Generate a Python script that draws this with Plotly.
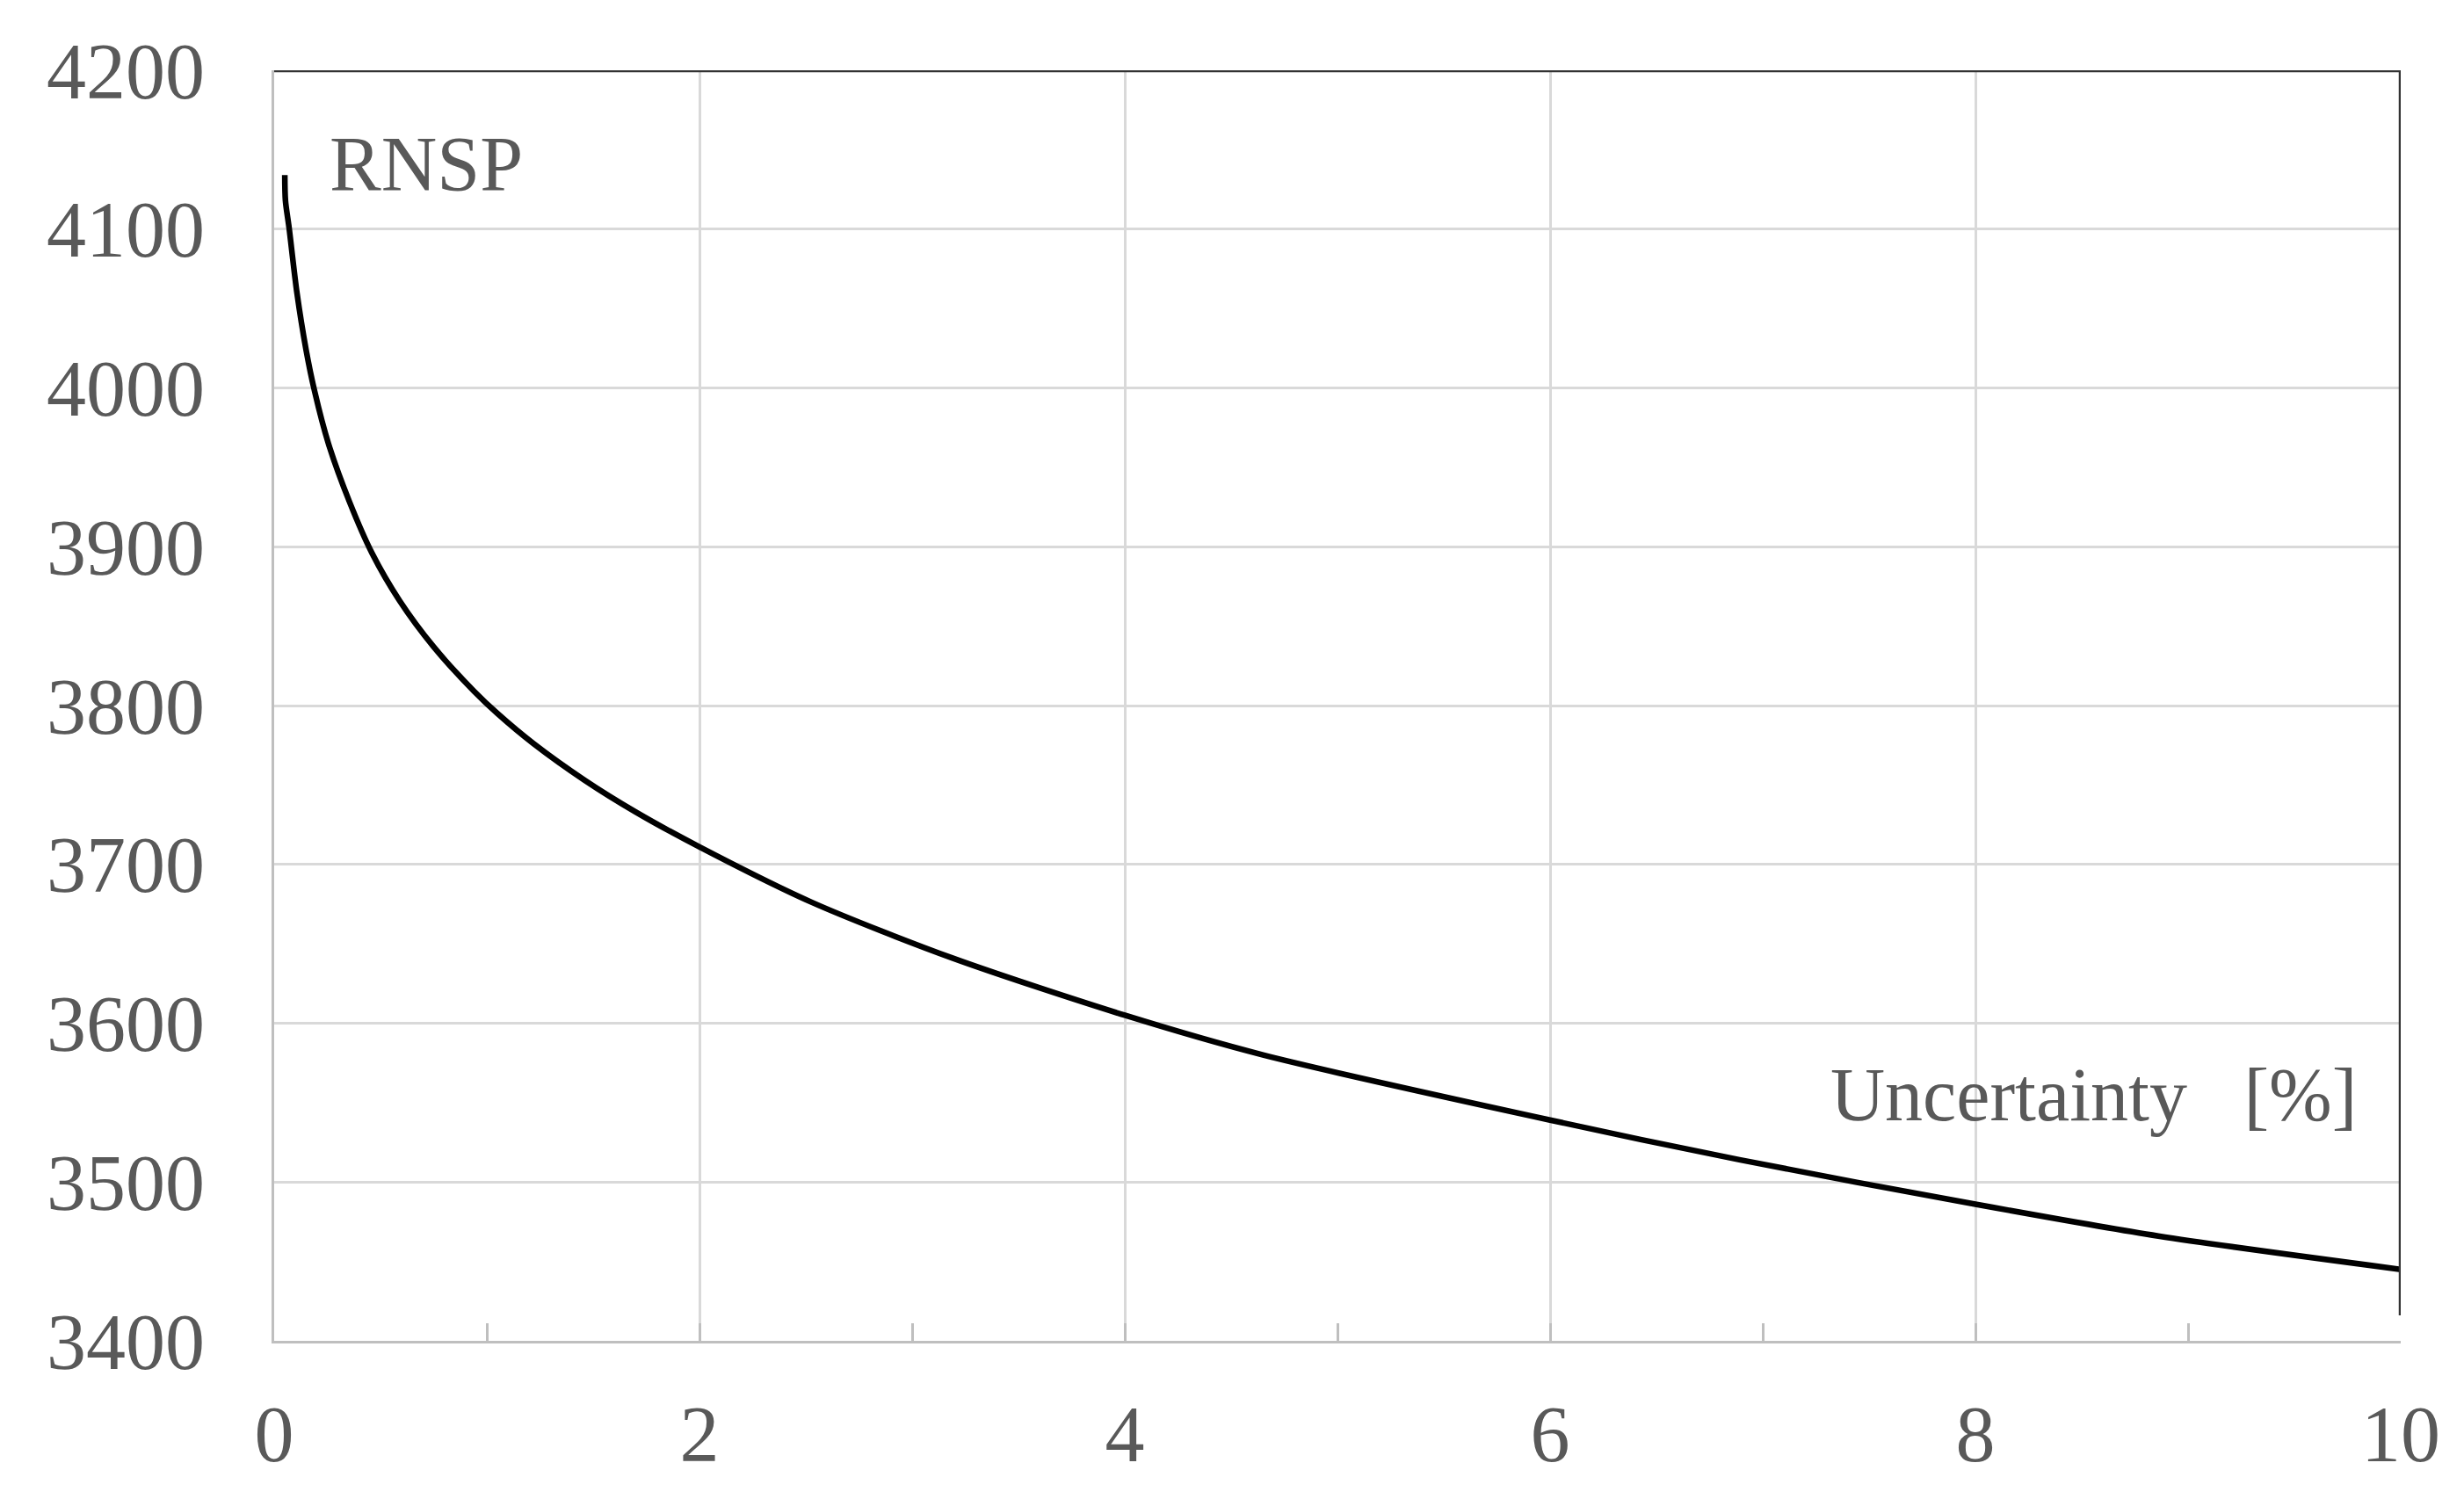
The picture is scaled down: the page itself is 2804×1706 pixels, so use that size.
import plotly.graph_objects as go

# Data
uncertainty = [0.05, 0.053, 0.07, 0.107, 0.15, 0.19, 0.255, 0.355, 0.46, 0.59, 0.75,
               0.94, 1.05, 1.22, 1.46, 1.70, 2.0, 2.53, 3.19, 4.0, 4.65,
               6.0, 6.89, 8.0, 8.86, 10.0]
rnsp = [4134, 4118, 4101, 4060, 4024, 3998, 3965, 3928, 3896, 3866, 3837,
        3809, 3795, 3776, 3753, 3733, 3711, 3676, 3641, 3605, 3580,
        3539, 3514, 3486, 3466, 3445]

x_ticks = [0, 2, 4, 6, 8, 10]
y_ticks = [3400, 3500, 3600, 3700, 3800, 3900, 4000, 4100, 4200]

# frame lines (top and right) as drawn in the reference
frame_x = [0, 10, 10]
frame_y = [4200, 4200, 3416]

FONT = "Liberation Serif, Times New Roman, serif"
TXT = "#595959"
GRID = "#d9d9d9"
AXIS = "#bfbfbf"

fig = go.Figure()
fig.add_trace(go.Scatter(x=uncertainty, y=rnsp, mode="lines",
                         line=dict(color="black", width=6.5, shape="spline", smoothing=0.8),
                         showlegend=False, hoverinfo="skip"))
fig.add_trace(go.Scatter(x=frame_x, y=frame_y, mode="lines",
                         line=dict(color="#333333", width=4.5),
                         showlegend=False, hoverinfo="skip", cliponaxis=False))

fig.update_layout(
    width=2804, height=1706,
    margin=dict(l=304, r=80, t=72, b=188),
    paper_bgcolor="white", plot_bgcolor="white",
    font=dict(family=FONT, color=TXT, size=90),
    xaxis=dict(range=[0, 10], tickvals=x_ticks, ticktext=[str(v) for v in x_ticks],
               showgrid=True, gridcolor=GRID, gridwidth=2.5,
               showline=True, linecolor=AXIS, linewidth=3,
               ticks="inside", ticklen=20, tickwidth=2.5, tickcolor=AXIS,
               minor=dict(dtick=1, ticks="inside", ticklen=20, tickwidth=2.5,
                          tickcolor=AXIS, showgrid=False),
               ticklabelstandoff=26, zeroline=False,
               tickfont=dict(family=FONT, color=TXT, size=90)),
    yaxis=dict(range=[3400, 4200], tickvals=y_ticks, ticktext=[str(v) for v in y_ticks],
               showgrid=True, gridcolor=GRID, gridwidth=2.5,
               showline=True, linecolor=AXIS, linewidth=3,
               ticks="", ticklabelstandoff=58, zeroline=False,
               tickfont=dict(family=FONT, color=TXT, size=90)),
    annotations=[
        dict(x=0.25, y=4141, xref="x", yref="y", text="RNSP", showarrow=False,
             xanchor="left", yanchor="middle",
             font=dict(family=FONT, color=TXT, size=88)),
        dict(x=9.8, y=3555, xref="x", yref="y", text="Uncertainty\u00a0\u00a0\u00a0[%]",
             showarrow=False, xanchor="right", yanchor="middle",
             font=dict(family=FONT, color=TXT, size=86)),
    ],
)

fig.write_html("out.html")
